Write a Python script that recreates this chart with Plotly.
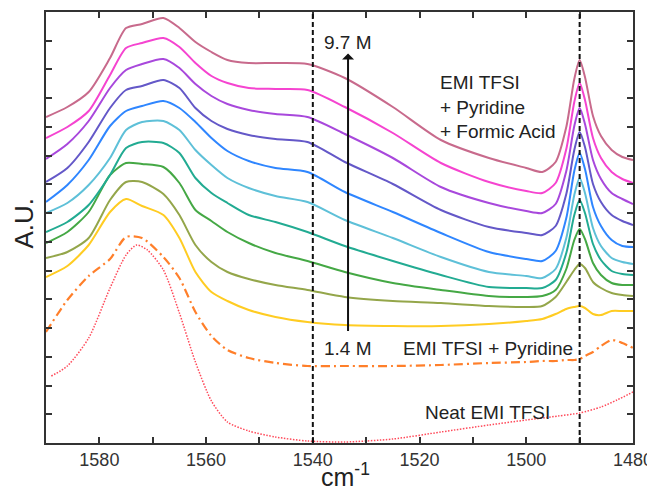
import plotly.graph_objects as go

# wavenumber grid (cm-1) shared by the formic-acid series and the pyridine-only series
wavenumber = [1590, 1586, 1582, 1578, 1575, 1572, 1568, 1565, 1562, 1559, 1556, 1552,
              1547, 1541, 1534, 1525, 1516, 1507, 1500, 1497, 1494.5, 1492.5, 1491,
              1490, 1489, 1487.5, 1486, 1484, 1482, 1480]

# EMI TFSI + Pyridine + Formic Acid (offset spectra, A.U.), 1.4 M ... 9.7 M
fa_1 = [166, 177, 198, 231, 244, 237, 228, 205, 171, 151, 142, 133, 126, 121, 118, 117, 117,
        119, 122, 124, 129, 134, 136, 137, 135, 129, 128, 132, 132, 132]
fa_2 = [185, 191, 205, 243, 261, 261, 249, 228, 198, 181, 171, 164, 158, 153, 146, 142, 140,
        137, 136, 137, 146, 161, 173, 179, 175, 161, 155, 150, 148, 147]
fa_3 = [200, 211, 231, 268, 280, 279, 276, 260, 233, 222, 211, 200, 190, 182, 171, 160, 153,
        147, 146, 147, 153, 174, 203, 214, 204, 180, 168, 160, 158, 158]
fa_4 = [211, 221, 238, 268, 295, 301, 300, 290, 265, 250, 240, 228, 221, 211, 197, 182, 168,
        156, 155, 155, 163, 190, 228, 243, 230, 199, 183, 172, 169, 168]
fa_5 = [230, 240, 258, 285, 313, 321, 322, 313, 293, 278, 265, 255, 247, 241, 223, 205, 186,
        171, 167, 165, 174, 205, 248, 265, 250, 215, 197, 185, 181, 179]
fa_6 = [241, 258, 283, 317, 332, 337, 342, 335, 321, 305, 292, 282, 275, 271, 251, 231, 210,
        191, 184, 182, 192, 225, 272, 290, 274, 236, 217, 203, 197, 196]
fa_7 = [261, 275, 301, 335, 353, 357, 363, 355, 335, 322, 314, 308, 304, 301, 281, 259, 233,
        216, 210, 208, 217, 249, 293, 311, 296, 259, 241, 228, 222, 218]
fa_8 = [284, 299, 322, 355, 373, 379, 384, 375, 359, 347, 339, 333, 329, 326, 309, 285, 256,
        240, 232, 230, 239, 272, 317, 335, 319, 283, 264, 250, 244, 239]
fa_9 = [305, 316, 332, 368, 395, 400, 405, 396, 380, 367, 360, 355, 354, 353, 336, 310, 280,
        261, 252, 250, 260, 294, 341, 360, 343, 305, 285, 271, 264, 260]
fa_10 = [326, 336, 351, 385, 415, 419, 425, 415, 401, 391, 383, 380, 380, 379, 365, 336, 303,
         285, 275, 271, 281, 316, 364, 383, 366, 327, 307, 293, 286, 283]

# EMI TFSI + Pyridine
pyridine = [111, 143, 167, 184, 206, 205, 186, 165, 131, 107, 93, 85, 80, 77, 77, 77, 78,
            80, 81, 82, 82, 83, 83, 84, 87, 91, 97, 103, 100, 95]

# Neat EMI TFSI
neat_wavenumber = [1589, 1586, 1582, 1578, 1575, 1573, 1571, 1568, 1565, 1562, 1559, 1556,
                   1552, 1547, 1541, 1534, 1525, 1516, 1507, 1500, 1494, 1490, 1486, 1483, 1480]
neat = [67, 77, 105, 155, 188, 198, 193, 173, 130, 81, 42, 21, 12, 6, 2, 1, 4, 11, 18, 23,
        27, 30, 36, 43, 51]

fa_series = [fa_1, fa_2, fa_3, fa_4, fa_5, fa_6, fa_7, fa_8, fa_9, fa_10]
fa_colors = ["#ffcc22", "#94a64a", "#45a845", "#22ab92", "#5ec0d8",
             "#2f86ff", "#6458c8", "#a848dc", "#f544d0", "#c86a8c"]

x_ticks = list(range(1480, 1591, 10))
x_ticktext = [str(v) if v % 20 == 0 else "" for v in x_ticks]
ref_lines = [1540, 1490]

fig = go.Figure()

fig.add_trace(go.Scatter(x=neat_wavenumber, y=neat, mode="lines",
                         line=dict(color="#ff4a5a", width=1.5, dash="1.5px,1.5px",
                                   shape="spline", smoothing=0.7),
                         showlegend=False))
fig.add_trace(go.Scatter(x=wavenumber, y=pyridine, mode="lines",
                         line=dict(color="#ff7f2a", width=2.2, dash="9px,4px,2px,4px",
                                   shape="spline", smoothing=0.7),
                         showlegend=False))
for ys, c in zip(fa_series, fa_colors):
    fig.add_trace(go.Scatter(x=wavenumber, y=ys, mode="lines",
                             line=dict(color=c, width=2, shape="spline", smoothing=0.7),
                             showlegend=False))

for xv in ref_lines:
    fig.add_shape(type="line", xref="x", yref="paper", x0=xv, x1=xv, y0=0, y1=1,
                  line=dict(color="#111111", width=2, dash="5px,3px"), layer="above")

txt = dict(family="Liberation Sans, Arial, sans-serif", size=19, color="#222222")
fig.add_annotation(x=1533.4, y=112, ax=1533.4, ay=391, xref="x", yref="y",
                   axref="x", ayref="y", text="", showarrow=True, arrowhead=2,
                   arrowsize=1.7, arrowwidth=2, arrowcolor="#111111", arrowside="start")
fig.add_annotation(x=1533.4, y=401, text="9.7 M", showarrow=False, font=txt)
fig.add_annotation(x=1533.4, y=95, text="1.4 M", showarrow=False, font=txt)
fig.add_annotation(x=1507.2, y=95, text="EMI TFSI + Pyridine", showarrow=False, font=txt)
fig.add_annotation(x=1507.2, y=31, text="Neat EMI TFSI", showarrow=False, font=txt)
fig.add_annotation(x=1516.6, y=361, text="EMI TFSI", showarrow=False, font=txt,
                   xanchor="left")
fig.add_annotation(x=1516.6, y=336, text="+ Pyridine", showarrow=False, font=txt,
                   xanchor="left")
fig.add_annotation(x=1516.6, y=312, text="+ Formic Acid", showarrow=False, font=txt,
                   xanchor="left")

# axis titles
title_font = dict(family="Liberation Sans, Arial, sans-serif", size=26, color="#222222")
fig.add_annotation(xref="paper", yref="paper", x=-0.037, y=0.51, text="A.U.",
                   textangle=-90, showarrow=False, xanchor="center", yanchor="middle",
                   font=title_font)
fig.add_annotation(xref="paper", yref="paper", x=0.51, y=-0.1165, xanchor="center",
                   yanchor="bottom", text="cm<sup>-1</sup>", showarrow=False,
                   font=dict(family="Liberation Sans, Arial, sans-serif", size=25,
                             color="#222222"))

# the page places the figure 8 px in from the top-left corner
fig.update_layout(
    width=647, height=484,
    margin=dict(l=38, r=22, t=4, b=49),
    plot_bgcolor="white", paper_bgcolor="white",
    font=dict(family="Liberation Sans, Arial, sans-serif", color="#222222"),
    xaxis=dict(range=[1590, 1480], tickvals=x_ticks, ticktext=x_ticktext,
               ticks="inside", ticklen=6, tickwidth=1.5, tickcolor="#333333",
               showline=True, linecolor="#333333", linewidth=1.5, mirror="ticks",
               showgrid=False, zeroline=False, automargin=False,
               tickfont=dict(size=18, color="#333333")),
    yaxis=dict(range=[0, 431], tick0=0, dtick=431 / 15, showticklabels=False,
               ticks="inside", ticklen=6, tickwidth=1.5, tickcolor="#333333",
               showline=True, linecolor="#333333", linewidth=1.5, mirror="ticks",
               showgrid=False, zeroline=False, automargin=False),
)

fig.write_html("out.html")
